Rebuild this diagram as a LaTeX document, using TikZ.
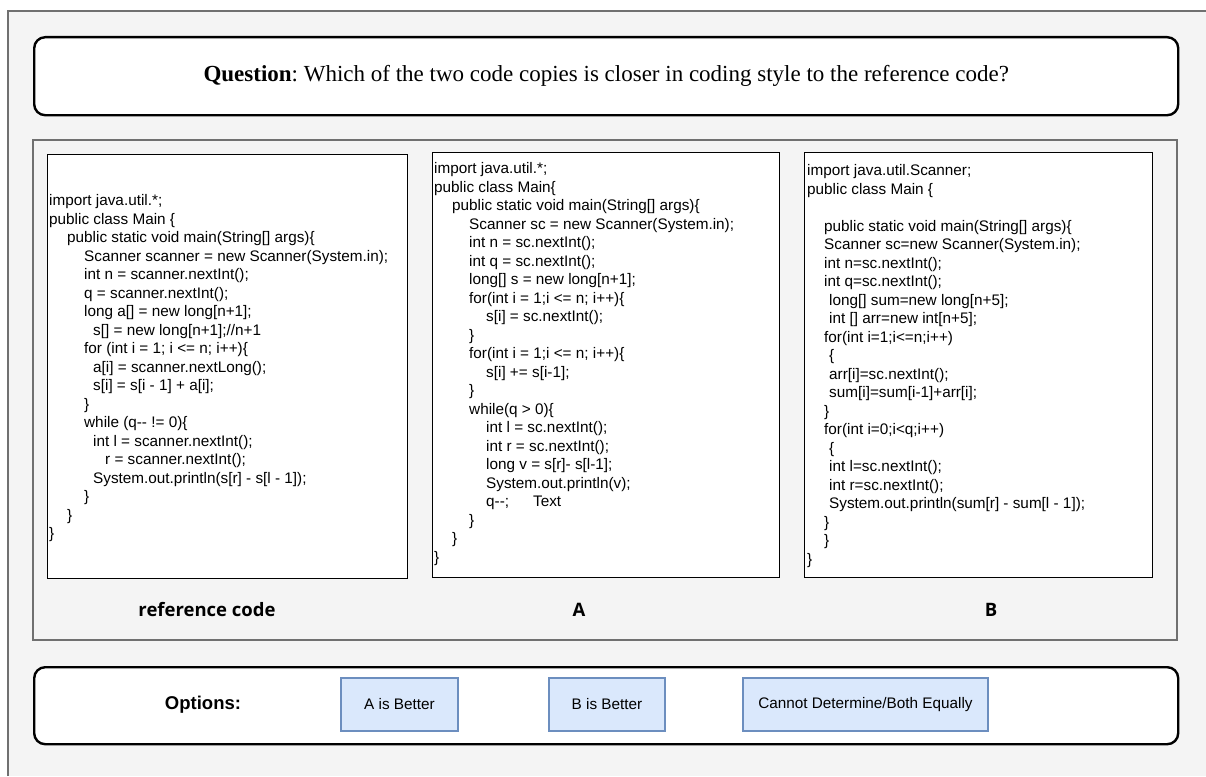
\documentclass[tikz,border=0pt]{standalone}
\usepackage{fontspec}
\setmainfont{Liberation Serif}
\newfontfamily\codefont{Liberation Sans}[Ligatures=TeXOff]
\newfontfamily\capfont{Open Sans}
\usetikzlibrary{positioning}

\definecolor{bggray}{HTML}{F4F4F4}
\definecolor{framegray}{HTML}{707070}
\definecolor{optfill}{HTML}{DAE8FC}
\definecolor{optdraw}{HTML}{6C8EBF}

\newcommand{\indt}[1]{\hspace*{#1pt}}
\frenchspacing

\tikzset{
	panel/.style={draw=black, line width=2.4pt, fill=white, rounded corners=11pt},
	codebox/.style={draw=black, line width=1.2pt, fill=white, anchor=north west, inner sep=0pt},
	code/.style={anchor=west, align=left, inner sep=0pt, font=\codefont\fontsize{15.3}{18.5}\selectfont},
	caption/.style={font=\capfont\bfseries\fontsize{18.5}{22}\selectfont},
	optbtn/.style={draw=optdraw, line width=2pt, fill=optfill, minimum height=53pt, inner sep=0pt, font=\codefont\fontsize{15.3}{18}\selectfont}
}

\begin{document}
\begin{tikzpicture}[x=1pt, y=-1pt]
			\useasboundingbox (0,0) rectangle (1206,776);
			% background and outer frame
			\fill[bggray] (8,11) rectangle (1206,776);
			\draw[framegray, line width=2pt] (8,776) |- (1206,11);
			% question
			\node[panel, anchor=north west, minimum width=1144pt, minimum height=78pt] (qbox) at (33,36) {};
			\node[font=\fontsize{23}{27}\selectfont] (qtext) at (qbox.center) {\textbf{Question}: Which of the two code copies is closer in coding style to the reference code?};
			% code panel
			\draw[framegray, line width=2.4pt, fill=bggray] (33,140) rectangle (1177,640);
			\node[codebox, minimum width=360pt, minimum height=424pt] (refbox) at (47,154) {};
			\node[codebox, minimum width=347pt, minimum height=425pt] (abox) at (432,152) {};
			\node[codebox, minimum width=348pt, minimum height=425pt] (bbox) at (804,152) {};
			\node[code] (refcode) at ([xshift=2pt, yshift=-1.5pt]refbox.west) {import java.util.*;\\
				public class Main \{\\
				\indt{18}public static void main(String[] args)\{\\
				\indt{35}Scanner scanner = new Scanner(System.in);\\
				\indt{35}int n = scanner.nextInt();\\
				\indt{35}q = scanner.nextInt();\\
				\indt{35}long a[] = new long[n+1];\\
				\indt{44}s[] = new long[n+1];//n+1\\
				\indt{35}for (int i = 1; i <= n; i++)\{\\
				\indt{44}a[i] = scanner.nextLong();\\
				\indt{44}s[i] = s[i - 1] + a[i];\\
				\indt{35}\}\\
				\indt{35}while (q-- != 0)\{\\
				\indt{44}int l = scanner.nextInt();\\
				\indt{56}r = scanner.nextInt();\\
				\indt{44}System.out.println(s[r] - s[l - 1]);\\
				\indt{35}\}\\
				\indt{18}\}\\
				\}};
			\node[code] (acode) at ([xshift=2pt, yshift=1pt]abox.west) {import java.util.*;\\
				public class Main\{\\
				\indt{18}public static void main(String[] args)\{\\
				\indt{35}Scanner sc = new Scanner(System.in);\\
				\indt{35}int n = sc.nextInt();\\
				\indt{35}int q = sc.nextInt();\\
				\indt{35}long[] s = new long[n+1];\\
				\indt{35}for(int i = 1;i <= n; i++)\{\\
				\indt{52}s[i] = sc.nextInt();\\
				\indt{35}\}\\
				\indt{35}for(int i = 1;i <= n; i++)\{\\
				\indt{52}s[i] += s[i-1];\\
				\indt{35}\}\\
				\indt{35}while(q > 0)\{\\
				\indt{52}int l = sc.nextInt();\\
				\indt{52}int r = sc.nextInt();\\
				\indt{52}long v = s[r]- s[l-1];\\
				\indt{52}System.out.println(v);\\
				\indt{52}q--;\hspace{24pt}Text\\
				\indt{35}\}\\
				\indt{18}\}\\
				\}};
			\node[code] (bcode) at ([xshift=3pt, yshift=-1pt]bbox.west) {import java.util.Scanner;\\
				public class Main \{\\
				\mbox{}\\
				\indt{17}public static void main(String[] args)\{\\
				\indt{17}Scanner sc=new Scanner(System.in);\\
				\indt{17}int n=sc.nextInt();\\
				\indt{17}int q=sc.nextInt();\\
				\indt{22}long[] sum=new long[n+5];\\
				\indt{22}int [] arr=new int[n+5];\\
				\indt{17}for(int i=1;i<=n;i++)\\
				\indt{22}\{\\
				\indt{22}arr[i]=sc.nextInt();\\
				\indt{22}sum[i]=sum[i-1]+arr[i];\\
				\indt{17}\}\\
				\indt{17}for(int i=0;i<q;i++)\\
				\indt{22}\{\\
				\indt{22}int l=sc.nextInt();\\
				\indt{22}int r=sc.nextInt();\\
				\indt{22}System.out.println(sum[r] - sum[l - 1]);\\
				\indt{17}\}\\
				\indt{17}\}\\
				\}};
			\node[caption] (refcap) at (207,610) {reference code};
			\node[caption] (acap) at (579,610) {A};
			\node[caption] (bcap) at (991,610) {B};
			% options
			\node[panel, anchor=north west, minimum width=1144pt, minimum height=77pt] (obox) at (33,666) {};
			\node[font=\codefont\bfseries\fontsize{18.5}{22}\selectfont] (otext) at (203,705) {Options:};
			\node[optbtn, minimum width=117pt] (abtn) at (399.5,704.5) {A is Better};
			\node[optbtn, minimum width=116pt, right=89pt of abtn] (bbtn) {B is Better};
			\node[optbtn, minimum width=245pt, right=76pt of bbtn] (cbtn) {Cannot Determine/Both Equally};
\end{tikzpicture}
\end{document}
